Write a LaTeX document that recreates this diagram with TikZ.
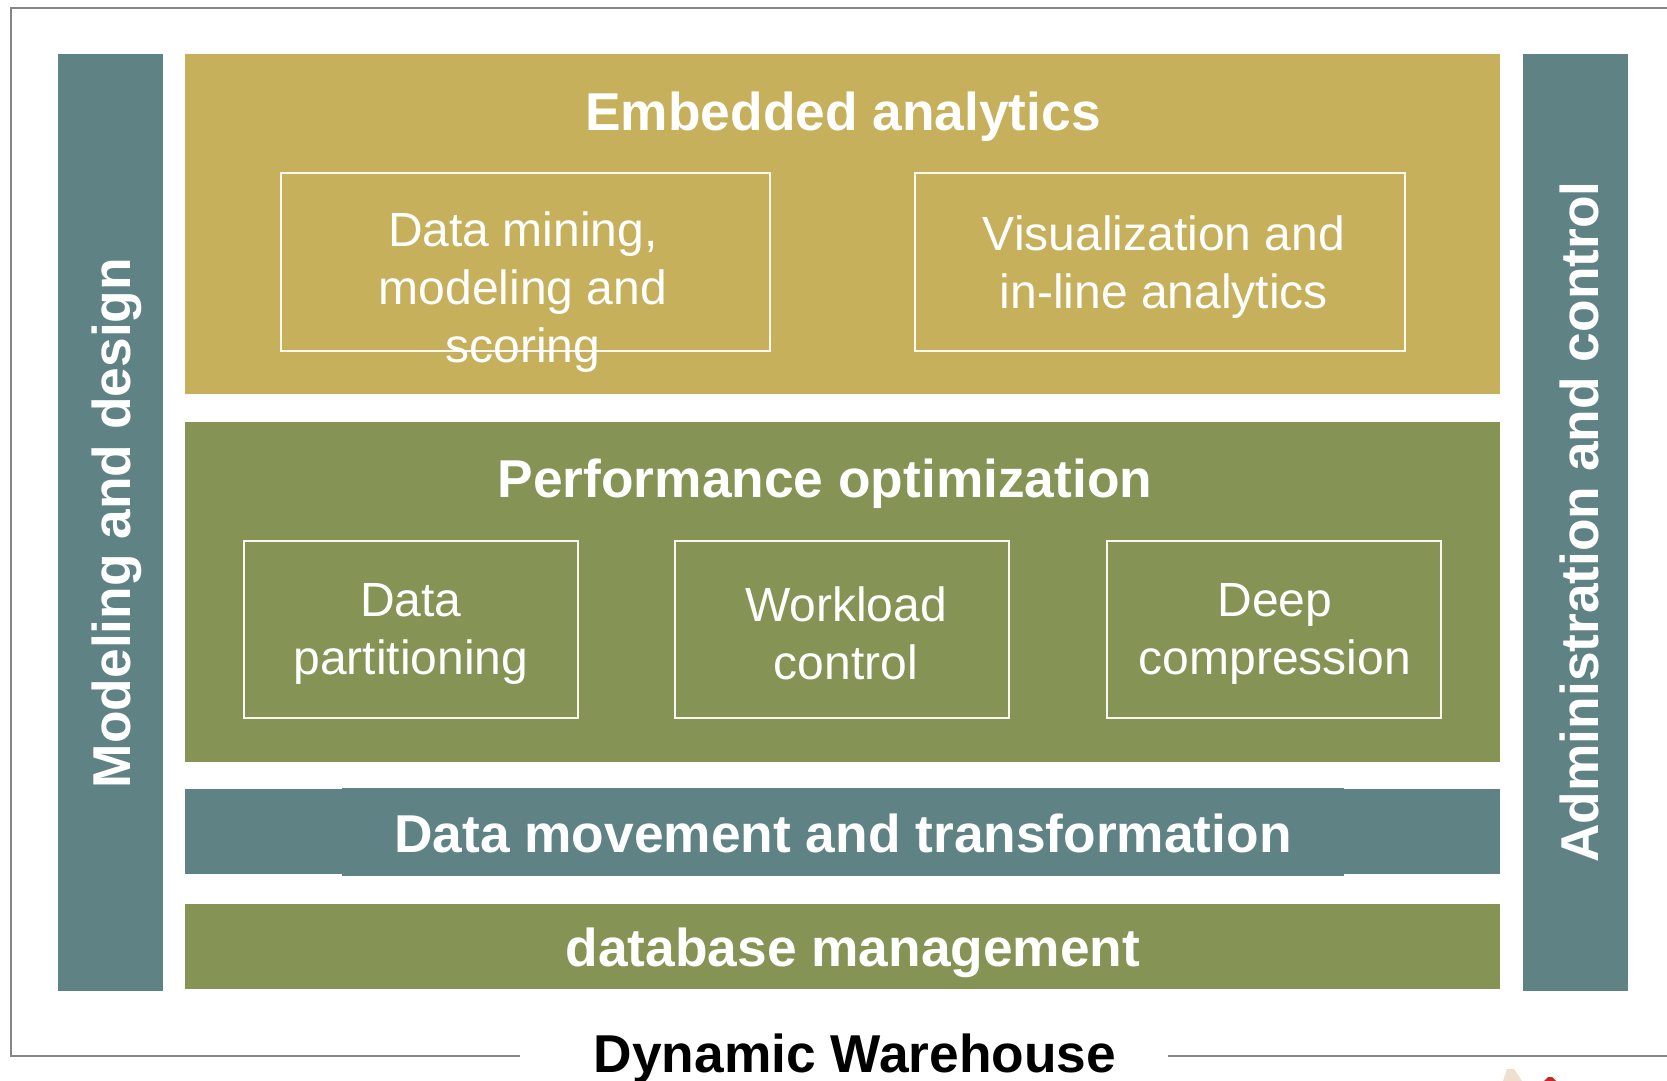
\documentclass[tikz,border=0pt]{standalone}
\usepackage{fontspec}
\setmainfont{Liberation Sans}
\usepackage{tikz}

\definecolor{barteal}{HTML}{5F8384}
\definecolor{bargold}{HTML}{C6B05B}
\definecolor{barolive}{HTML}{859454}
\definecolor{framegray}{HTML}{858585}

\tikzset{
  inbox/.style={draw=white!90!bargold, line width=2pt, minimum height=177.5pt, inner sep=0pt},
  head/.style={text=white, font=\fontsize{53.3}{60}\selectfont\bfseries},
  sub/.style={text=white, font=\fontsize{48}{58}\selectfont, align=center},
}

\begin{document}
\begin{tikzpicture}[x=1pt, y=-1pt]
  \useasboundingbox (0,0) rectangle (1667,1081);

  % outer frame
  \coordinate (fa) at (520,1056);
  \coordinate (fb) at (11,1056);
  \coordinate (fc) at (11,8);
  \coordinate (fd) at (1667,8);
  \coordinate (fe) at (1168,1056);
  \coordinate (ff) at (1667,1056);
  \draw[framegray, line width=2.3pt] (fa) -- (fb) -- (fc) -- (fd);
  \draw[framegray, line width=2.3pt] (fe) -- (ff);

  % side bars
  \fill[barteal] (58,54) rectangle (163,991);
  \fill[barteal] (1523,54) rectangle (1628,991);
  \node[head, rotate=90] (nleft) at (117,523) {Modeling and design};
  \node[head, rotate=90] (nright) at (1579,522) {Administration and control};

  % layers
  \fill[bargold] (185,54) rectangle (1500,394);
  \fill[barolive] (185,422) rectangle (1500,762);
  \fill[barteal] (185,789) rectangle (1500,874);
  \fill[barteal] (342,788) rectangle (1344,876);
  \fill[barolive] (185,904) rectangle (1500,989);

  \node[head] (nemb) at (843,116.5) {Embedded analytics};
  \node[head] (nperf) at (825,484) {Performance optimization};
  \node[head] (nmove) at (843,833) {Data movement and transformation};
  \node[head] (ndb) at (853,953) {database management};
  \node[text=black, font=\fontsize{53.3}{60}\selectfont\bfseries] (ndw) at (855,1059) {Dynamic Warehouse};

  % inner boxes
  \foreach \name/\cx/\boxw in {ba/525.5/489,bb/1160/490}
    \node[inbox, minimum width=\boxw pt] (\name) at (\cx,262) {};
  \foreach \name/\cx in {bc/411,bd/842,be/1274}
    \node[inbox, minimum width=334pt] (\name) at (\cx,629.5) {};

  \node[sub] (ta) at (523,292.5) {Data mining,\\modeling and\\scoring};
  \node[sub] (tb) at (1164,267) {Visualization and\\in-line analytics};
  \node[sub] (tc) at (411,634) {Data\\partitioning};
  \node[sub] (td) at (846,633) {Workload\\control};
  \node[sub] (te) at (1275,634) {Deep\\compression};

  % cut-off bits at the bottom edge
  \fill[white!75!brown] (1503,1081) -- (1507,1069) -- (1514,1069) -- (1522,1081) -- cycle;
  \fill[red!75!black!85] (1544,1081) -- (1548,1077) -- (1552,1077) -- (1556,1081) -- cycle;
\end{tikzpicture}
\end{document}
